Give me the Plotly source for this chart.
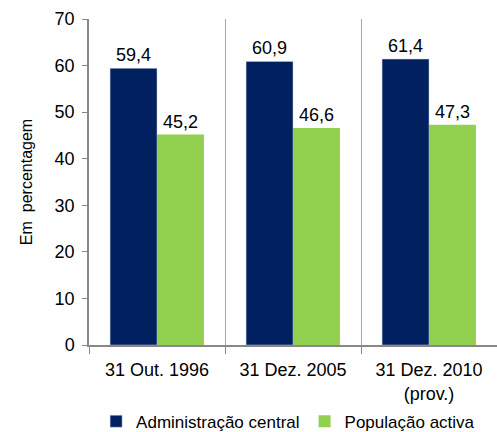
import plotly.graph_objects as go

categories = ["31 Out. 1996", "31 Dez. 2005", "31 Dez. 2010<br>(prov.)"]
admin_central = [59.4, 60.9, 61.4]
populacao_activa = [45.2, 46.6, 47.3]
series_names = ["Administração central", "População activa"]
y_ticks = [0, 10, 20, 30, 40, 50, 60, 70]

def fmt(v):
    return f"{v:.1f}".replace(".", ",")

FAM = "Liberation Sans, Arial, sans-serif"
font = dict(family=FAM, size=18, color="#000000")

fig = go.Figure()
fig.add_trace(go.Bar(
    x=categories, y=admin_central, name=series_names[0],
    marker=dict(color="#002060", line=dict(color="#c8d0e8", width=0.5)),
    text=[fmt(v) for v in admin_central], textposition="outside",
    textfont=font, cliponaxis=False,
))
fig.add_trace(go.Bar(
    x=categories, y=populacao_activa, name=series_names[1],
    marker=dict(color="#92D050", line=dict(width=0)),
    text=[fmt(v) for v in populacao_activa], textposition="outside",
    textfont=font, cliponaxis=False,
))

fig.update_layout(
    width=497, height=432,
    margin=dict(l=89, r=0, t=19, b=87, autoexpand=False),
    paper_bgcolor="white", plot_bgcolor="white",
    barmode="group", bargap=0.31, bargroupgap=0,
    font=font,
    showlegend=True,
    legend=dict(orientation="h", x=0.488, xanchor="center", y=-0.18, yanchor="top",
                bgcolor="rgba(0,0,0,0)",
                font=dict(family=FAM, size=17, color="#000000"),
                itemwidth=30, tracegroupgap=0, traceorder="normal"),
    xaxis=dict(
        tickson="boundaries", ticks="outside", ticklen=7, tickcolor="#888888",
        showline=True, linecolor="#888888", linewidth=1.5,
        showgrid=True, gridcolor="#a8a8a8", gridwidth=1,
        tickfont=font, ticklabelstandoff=8,
    ),
    yaxis=dict(
        range=[0, 70], tickvals=y_ticks, ticks="outside", ticklen=5,
        tickcolor="#888888", showline=True, linecolor="#888888", linewidth=1.5,
        showgrid=False, zeroline=False, tickfont=font, ticklabelstandoff=4,
        title=dict(text="Em  percentagem", font=dict(family=FAM, size=16, color="#000000"), standoff=18),
    ),
)

fig.write_html("out.html")
